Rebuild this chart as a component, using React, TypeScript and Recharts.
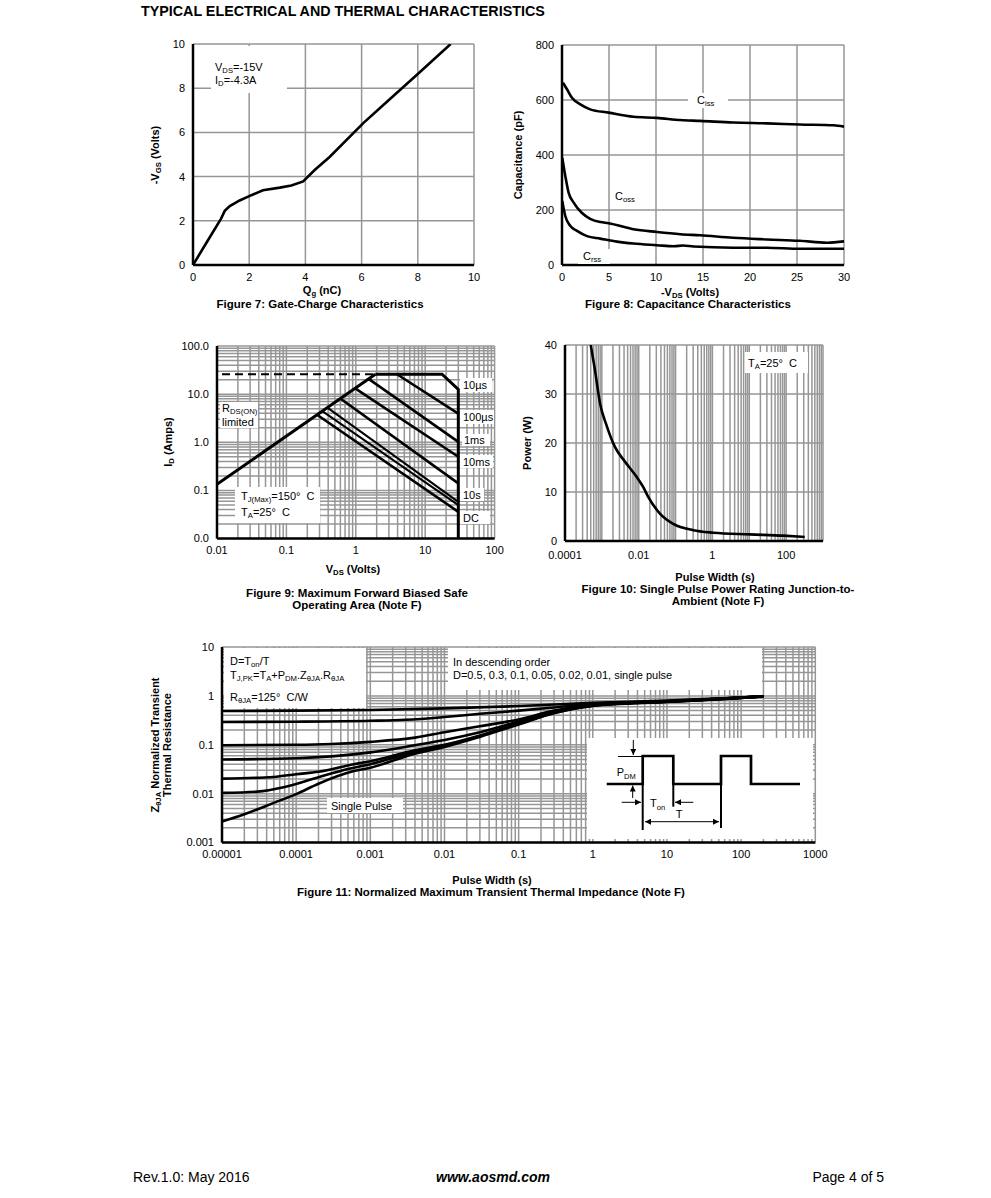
import React from 'react';
import { LineChart, Line, XAxis, YAxis, CartesianGrid } from 'recharts';

const FONT = '"Liberation Sans", Arial, Helvetica, sans-serif';
const GRID = '#969696';
const INK = '#000';

type P = [number, number];
const pts = (a: P[]) => a.map(([x, y]) => ({ x, y }));

// ---------- Figure 7: gate charge ----------
const qgTicks = [0, 2, 4, 6, 8, 10];
const vgsTicks = [0, 2, 4, 6, 8, 10];
const gateCharge: P[] = [
  [0, 0], [0.5, 1.05], [1.0, 2.1], [1.13, 2.45], [1.31, 2.67], [1.66, 2.92], [2.02, 3.13],
  [2.49, 3.38], [3.09, 3.5], [3.5, 3.6], [3.92, 3.78], [4.33, 4.3], [4.87, 4.9],
  [6.06, 6.42], [7.0, 7.5], [7.96, 8.6], [9.17, 10],
];

// ---------- Figure 8: capacitance ----------
const vdsTicks = [0, 5, 10, 15, 20, 25, 30];
const capTicks = [0, 200, 400, 600, 800];
const ciss: P[] = [
  [0.1, 663], [0.53, 639], [1.06, 608], [1.95, 584], [3.0, 566], [4.96, 554], [7.6, 539],
  [10.1, 535], [12.6, 527], [14.7, 524], [18.2, 518], [21.8, 515], [25.3, 511], [28.9, 508], [30, 503],
];
const coss: P[] = [
  [0.03, 390], [0.35, 324], [0.7, 263], [1.24, 227], [2.1, 190], [3.0, 168], [4.07, 156],
  [4.96, 152], [7.6, 130], [10.1, 120], [12.6, 112], [14.7, 108], [18.2, 99], [21.8, 93],
  [25.3, 88], [28.2, 81], [30, 86],
];
const crss: P[] = [
  [0.03, 233], [0.35, 178], [0.89, 142], [1.6, 124], [2.66, 105], [4.07, 96], [5.85, 85],
  [7.6, 78], [10.1, 72], [11.9, 68], [12.9, 71], [14.0, 67], [18.2, 63], [21.8, 63], [25.3, 59], [30, 59],
];

// ---------- Figure 9: SOA ----------
const soaXDecades = [0.01, 0.1, 1, 10, 100];
const soaXLabels = ['0.01', '0.1', '1', '10', '100'];
const soaYDecades = [0.01, 0.1, 1, 10, 100];
const soaYLabels = ['0.0', '0.1', '1.0', '10.0', '100.0'];
const rdsLimit: P[] = [[0.01, 0.134], [1.91, 25.9]];
const currentLimit: P[] = [[0.0118, 25.9], [1.8, 25.9]];
const soa10us: P[] = [[1.91, 25.9], [17.5, 25.9], [30, 12.5], [30, 0.01]];
const soa100us: P[] = [[3.92, 25.9], [30, 3.95]];
const soa1ms: P[] = [[1.53, 20.7], [30, 1.02]];
const soa10ms: P[] = [[0.98, 13.2], [30, 0.5]];
const soa100ms: P[] = [[0.598, 8.1], [30, 0.14]];
const soa1s: P[] = [[0.389, 5.26], [30, 0.058]];
const soa10s: P[] = [[0.329, 4.45], [30, 0.0495]];
const soaDC: P[] = [[0.276, 3.73], [30, 0.036]];

// ---------- Figure 10: single pulse power ----------
const pwXDecades = [0.0001, 0.01, 1, 100];
const pwXLabels = ['0.0001', '0.01', '1', '100'];
const powerTicks = [0, 10, 20, 30, 40];
const pulsePower: P[] = [
  [0.0005, 40], [0.00065, 34.9], [0.00089, 28.1], [0.00134, 23.6], [0.00226, 19.2],
  [0.00423, 16.2], [0.00876, 13.1], [0.0133, 11.0], [0.0181, 9.0], [0.0376, 5.6],
  [0.0863, 3.5], [0.301, 2.2], [1.05, 1.7], [10.2, 1.36], [83, 1.09], [319, 0.82],
];

// ---------- Figure 11: transient thermal impedance ----------
const ztXDecades = [0.00001, 0.0001, 0.001, 0.01, 0.1, 1, 10, 100, 1000];
const ztXLabels = ['0.00001', '0.0001', '0.001', '0.01', '0.1', '1', '10', '100', '1000'];
const ztYDecades = [0.001, 0.01, 0.1, 1, 10];
const ztYLabels = ['0.001', '0.01', '0.1', '1', '10'];
const zD05: P[] = [[1e-5, 0.49], [1e-4, 0.5], [1e-3, 0.515], [1e-2, 0.555], [0.1, 0.62], [1, 0.72], [10, 0.8], [100, 0.93], [200, 0.98]];
const zD03: P[] = [[1e-5, 0.293], [1e-4, 0.297], [1e-3, 0.31], [3e-3, 0.325], [1e-2, 0.37], [3e-2, 0.43], [0.1, 0.5], [0.3, 0.58], [1, 0.69], [10, 0.78], [100, 0.92], [200, 0.98]];
const zD01: P[] = [[1e-5, 0.098], [1e-4, 0.1], [3e-4, 0.104], [1e-3, 0.115], [4e-3, 0.14], [1e-2, 0.18], [3e-2, 0.24], [0.1, 0.33], [0.3, 0.5], [1, 0.66], [10, 0.77], [100, 0.92], [200, 0.98]];
const zD005: P[] = [[1e-5, 0.05], [1e-4, 0.053], [3e-4, 0.058], [1e-3, 0.07], [4e-3, 0.098], [1e-2, 0.125], [3e-2, 0.18], [0.1, 0.3], [0.3, 0.48], [1, 0.65], [10, 0.77], [100, 0.92], [200, 0.98]];
const zD002: P[] = [[1e-5, 0.0203], [5e-5, 0.022], [1e-4, 0.025], [2e-4, 0.028], [6e-4, 0.04], [1e-3, 0.046], [4e-3, 0.077], [1e-2, 0.1], [3e-2, 0.155], [0.1, 0.28], [0.3, 0.46], [1, 0.64], [10, 0.76], [100, 0.92], [200, 0.98]];
const zD001: P[] = [[1e-5, 0.0104], [3e-5, 0.011], [7e-5, 0.0137], [2e-4, 0.0218], [5e-4, 0.032], [1e-3, 0.04], [4e-3, 0.071], [1e-2, 0.095], [3e-2, 0.15], [0.1, 0.27], [0.3, 0.45], [1, 0.63], [10, 0.76], [100, 0.91], [200, 0.98]];
const zSingle: P[] = [[1e-5, 0.0027], [2e-5, 0.0038], [5e-5, 0.0065], [1e-4, 0.0098], [2e-4, 0.016], [6e-4, 0.029], [1e-3, 0.034], [4e-3, 0.066], [1e-2, 0.09], [3e-2, 0.145], [0.1, 0.26], [0.3, 0.44], [1, 0.62], [10, 0.75], [100, 0.91], [200, 0.98]];

// ---------- helpers ----------
const logTicks = (lo: number, hi: number) => {
  const out: number[] = [];
  for (let e = lo; e < hi; e++) for (let m = 1; m < 10; m++) out.push(Number((m * Math.pow(10, e)).toPrecision(3)));
  out.push(Number(Math.pow(10, hi).toPrecision(3)));
  return out;
};
const labeler = (dec: number[], lab: string[]) => (v: number) => {
  const i = dec.findIndex((d) => Math.abs(d - v) / d < 1e-6);
  return i >= 0 ? lab[i] : '';
};

const M = { top: 10, right: 26, bottom: 0, left: 0 };
const YW = 70;
const XH = 34;
const tickStyle = { fontSize: 11, fill: '#000', fontFamily: FONT };
const axisLine = { stroke: '#000', strokeWidth: 2.5 };

function Chart({ r, children }: { r: [number, number, number, number]; children: React.ReactNode }) {
  const [x0, y0, x1, y1] = r;
  const width = x1 - x0 + YW + M.left + M.right;
  const height = y1 - y0 + M.top + XH + M.bottom;
  return (
    <div style={{ position: 'absolute', left: x0 - YW - M.left, top: y0 - M.top }}>
      <LineChart width={width} height={height} margin={M}>
        {children}
      </LineChart>
    </div>
  );
}

function Tx({ x, y, a = 'l', s = 11, b = false, r = false, children, st }: any) {
  const tr = r
    ? 'translate(-50%,-50%) rotate(-90deg)'
    : a === 'c'
    ? 'translate(-50%,-50%)'
    : a === 'r'
    ? 'translate(-100%,-50%)'
    : 'translateY(-50%)';
  return (
    <div
      style={{
        position: 'absolute', left: x, top: y, transform: tr, fontFamily: FONT, fontSize: s,
        fontWeight: b ? 700 : 400, whiteSpace: 'nowrap', lineHeight: 1.15, color: '#000', ...st,
      }}
    >
      {children}
    </div>
  );
}
const Box = ({ x0, y0, x1, y1 }: any) => (
  <div style={{ position: 'absolute', left: x0, top: y0, width: x1 - x0, height: y1 - y0, background: '#fff' }} />
);
const Sb = ({ children }: any) => (
  <span style={{ fontSize: '0.7em', position: 'relative', top: '0.3em' }}>{children}</span>
);

const line = (d: P[], key: string, extra: any = {}) => (
  <Line
    key={key}
    data={pts(d)}
    dataKey="y"
    type={extra.type || 'linear'}
    stroke={INK}
    strokeWidth={extra.w || 2.6}
    strokeDasharray={extra.dash}
    dot={false}
    isAnimationActive={false}
  />
);

const TS = 11; // axis title size
const CS = 11.5; // caption size

export default function App() {
  const soaTicks = logTicks(-2, 2);
  const pwTicks = logTicks(-4, 3);
  const ztX = logTicks(-5, 3);
  const ztY = logTicks(-3, 1);
  const grid = <CartesianGrid stroke={GRID} strokeWidth={1.5} />;
  const axCommon = { tickLine: false, axisLine, tick: tickStyle, interval: 0 as const, allowDataOverflow: true };

  return (
    <div style={{ position: 'absolute', left: 0, top: 0, width: 991, height: 1198, background: '#fff', overflow: 'hidden' }}>
      {/* Figure 7 */}
      <Chart r={[193, 44, 474, 265]}>
        {grid}
        <XAxis dataKey="x" type="number" domain={[0, 10]} ticks={qgTicks} height={XH} {...axCommon} />
        <YAxis type="number" domain={[0, 10]} ticks={vgsTicks} width={YW} {...axCommon} />
        {line(gateCharge, 'qg')}
      </Chart>

      {/* Figure 8 */}
      <Chart r={[562, 45, 844, 265]}>
        {grid}
        <XAxis dataKey="x" type="number" domain={[0, 30]} ticks={vdsTicks} height={XH} {...axCommon} />
        <YAxis type="number" domain={[0, 800]} ticks={capTicks} width={YW} {...axCommon} />
        {line(ciss, 'ciss', { type: 'monotone' })}
        {line(coss, 'coss', { type: 'monotone' })}
        {line(crss, 'crss', { type: 'monotone' })}
      </Chart>

      {/* Figure 9 */}
      <Chart r={[216.7, 345.7, 494.3, 538.3]}>
        {grid}
        <XAxis dataKey="x" type="number" scale="log" domain={[0.01, 100]} ticks={soaTicks} height={XH}
          tickFormatter={labeler(soaXDecades, soaXLabels)} {...axCommon} />
        <YAxis type="number" scale="log" domain={[0.01, 100]} ticks={soaTicks} width={YW}
          tickFormatter={labeler(soaYDecades, soaYLabels)} {...axCommon} />
        {line(currentLimit, 'cl', { dash: '8 5', w: 2 })}
        {line(rdsLimit, 'rds', { w: 3 })}
        {line(soa10us, 'us10', { w: 3 })}
        {line(soa100us, 'us100')}
        {line(soa1ms, 'ms1')}
        {line(soa10ms, 'ms10')}
        {line(soa100ms, 'ms100')}
        {line(soa1s, 's1', { w: 2 })}
        {line(soa10s, 's10', { w: 2 })}
        {line(soaDC, 'dc', { w: 2.6 })}
      </Chart>

      {/* Figure 10 */}
      <Chart r={[565, 345, 823, 541]}>
        {grid}
        <XAxis dataKey="x" type="number" scale="log" domain={[0.0001, 1000]} ticks={pwTicks} height={XH}
          tickFormatter={labeler(pwXDecades, pwXLabels)} tickMargin={4} {...axCommon} />
        <YAxis type="number" domain={[0, 40]} ticks={powerTicks} width={YW} {...axCommon} />
        {line(pulsePower, 'pw', { type: 'monotone' })}
      </Chart>

      {/* Figure 11 */}
      <Chart r={[221.7, 646.7, 815, 842.3]}>
        {grid}
        <XAxis dataKey="x" type="number" scale="log" domain={[0.00001, 1000]} ticks={ztX} height={XH}
          tickFormatter={labeler(ztXDecades, ztXLabels)} {...axCommon} />
        <YAxis type="number" scale="log" domain={[0.001, 10]} ticks={ztY} width={YW}
          tickFormatter={labeler(ztYDecades, ztYLabels)} {...axCommon} />
        {line(zD05, 'd05', { type: 'monotone' })}
        {line(zD03, 'd03', { type: 'monotone' })}
        {line(zD01, 'd01', { type: 'monotone' })}
        {line(zD005, 'd005', { type: 'monotone' })}
        {line(zD002, 'd002', { type: 'monotone' })}
        {line(zD001, 'd001', { type: 'monotone' })}
        {line(zSingle, 'sp', { type: 'monotone' })}
      </Chart>

      {/* Page title */}
      <Tx x={141} y={11} s={14.3} b>TYPICAL ELECTRICAL AND THERMAL CHARACTERISTICS</Tx>

      {/* Fig 7 texts */}
      <Box x0={211} y0={46} x1={287} y1={93} />
      <Tx x={215} y={67}>V<Sb>DS</Sb>=-15V</Tx>
      <Tx x={215} y={80}>I<Sb>D</Sb>=-4.3A</Tx>
      <Tx x={155} y={155} r b s={TS}>-V<Sb>GS</Sb> (Volts)</Tx>
      <Tx x={322} y={290} a="c" b s={TS}>Q<Sb>g</Sb> (nC)</Tx>
      <Tx x={320} y={304.5} a="c" b s={CS}>Figure 7: Gate-Charge Characteristics</Tx>

      {/* Fig 8 texts */}
      <Box x0={688} y0={93} x1={728} y1={108} />
      <Tx x={697} y={100}>C<Sb>iss</Sb></Tx>
      <Tx x={615} y={196}>C<Sb>oss</Sb></Tx>
      <Box x0={578} y0={249} x1={610} y1={264} />
      <Tx x={583} y={256}>C<Sb>rss</Sb></Tx>
      <Tx x={518} y={155} r b s={TS}>Capacitance (pF)</Tx>
      <Tx x={690} y={291.5} a="c" b s={TS}>-V<Sb>DS</Sb> (Volts)</Tx>
      <Tx x={688} y={304.5} a="c" b s={CS}>Figure 8: Capacitance Characteristics</Tx>

      {/* Fig 9 texts */}
      <Box x0={220} y0={402} x1={258} y1={428} />
      <Tx x={222} y={408}>R<Sb>DS(ON)</Sb></Tx>
      <Tx x={222} y={422}>limited</Tx>
      <Box x0={235} y0={487} x1={320} y1={523} />
      <Tx x={241} y={496}>T<Sb>J(Max)</Sb>=150°&nbsp; C</Tx>
      <Tx x={241} y={512}>T<Sb>A</Sb>=25°&nbsp; C</Tx>
      <Box x0={460} y0={378} x1={492} y1={392} />
      <Tx x={463} y={385}>10µs</Tx>
      <Box x0={460} y0={410} x1={494} y1={424} />
      <Tx x={463} y={417}>100µs</Tx>
      <Box x0={462} y0={434} x1={490} y1={446} />
      <Tx x={464} y={440}>1ms</Tx>
      <Box x0={460} y0={455} x1={493} y1={468} />
      <Tx x={463} y={461.5}>10ms</Tx>
      <Box x0={460} y0={488} x1={484} y1={501} />
      <Tx x={463} y={494.5}>10s</Tx>
      <Box x0={460} y0={511} x1={490} y1={524} />
      <Tx x={463} y={517.5}>DC</Tx>
      <Tx x={168} y={442} r b s={TS}>I<Sb>D</Sb> (Amps)</Tx>
      <Tx x={353} y={569} a="c" b s={TS}>V<Sb>DS</Sb> (Volts)</Tx>
      <Tx x={357} y={593.5} a="c" b s={CS}>Figure 9: Maximum Forward Biased Safe</Tx>
      <Tx x={357} y={606} a="c" b s={CS}>Operating Area (Note F)</Tx>

      {/* Fig 10 texts */}
      <Box x0={745} y0={352} x1={808} y1={373} />
      <Tx x={748} y={362.5}>T<Sb>A</Sb>=25°&nbsp; C</Tx>
      <Tx x={527} y={443} r b s={TS}>Power (W)</Tx>
      <Tx x={715} y={576.5} a="c" b s={TS}>Pulse Width (s)</Tx>
      <Tx x={718} y={589.5} a="c" b s={CS}>Figure 10: Single Pulse Power Rating Junction-to-</Tx>
      <Tx x={718} y={602} a="c" b s={CS}>Ambient (Note F)</Tx>

      {/* Fig 11 texts */}
      <Box x0={224} y0={648} x1={366} y1={708} />
      <Tx x={230} y={660.5}>D=T<Sb>on</Sb>/T</Tx>
      <Tx x={230} y={675}>T<Sb>J,PK</Sb>=T<Sb>A</Sb>+P<Sb>DM</Sb>.Z<Sb>θJA</Sb>.R<Sb>θJA</Sb></Tx>
      <Tx x={230} y={697}>R<Sb>θJA</Sb>=125°&nbsp; C/W</Tx>
      <Box x0={448} y0={648} x1={762} y1={690} />
      <Tx x={453} y={662}>In descending order</Tx>
      <Tx x={453} y={675}>D=0.5, 0.3, 0.1, 0.05, 0.02, 0.01, single pulse</Tx>
      <Box x0={327} y0={798} x1={403} y1={813} />
      <Tx x={331} y={805.5}>Single Pulse</Tx>
      <div style={{ position: 'absolute', left: 590.5, top: 795, width: 8, height: 3.5, background: '#000' }} />
      <svg style={{ position: 'absolute', left: 587, top: 738 }} width={226} height={101}>
        <defs>
          <marker id="ah" viewBox="0 0 10 10" refX="10" refY="5" markerWidth="6" markerHeight="6" orient="auto-start-reverse">
            <path d="M0,0 L10,5 L0,10 z" fill="#000" />
          </marker>
        </defs>
        <rect x={0} y={0} width={226} height={101} fill="#fff" />
        <path d="M19.7 46 H55.7 V18 H86.3 V46 H134 V18 H164 V46 H213" fill="none" stroke="#000" strokeWidth={2.7} />
        <line x1={55.7} y1={46} x2={55.7} y2={92} stroke="#000" strokeWidth={2} />
        <line x1={86.3} y1={46} x2={86.3} y2={68.7} stroke="#000" strokeWidth={2} />
        <line x1={134} y1={46} x2={134} y2={90} stroke="#000" strokeWidth={2} />
        <line x1={31} y1={18.5} x2={55} y2={18.5} stroke="#000" strokeWidth={1} />
        <line x1={46.3} y1={2} x2={46.3} y2={17} stroke="#000" strokeWidth={1} markerEnd="url(#ah)" />
        <line x1={45.7} y1={60} x2={45.7} y2={47.5} stroke="#000" strokeWidth={1} markerEnd="url(#ah)" />
        <text x={29.7} y={37.5} fontFamily={FONT} fontSize={11}>P<tspan fontSize={7.5} dy={3}>DM</tspan></text>
        <line x1={34.7} y1={64.3} x2={54} y2={64.3} stroke="#000" strokeWidth={1} markerEnd="url(#ah)" />
        <line x1={106.3} y1={64.3} x2={88} y2={64.3} stroke="#000" strokeWidth={1} markerEnd="url(#ah)" />
        <text x={63} y={68.5} fontFamily={FONT} fontSize={11}>T<tspan fontSize={7.5} dy={3}>on</tspan></text>
        <line x1={58} y1={83.7} x2={132} y2={83.7} stroke="#000" strokeWidth={1} markerStart="url(#ah)" markerEnd="url(#ah)" />
        <text x={92} y={79.5} fontFamily={FONT} fontSize={11} textAnchor="middle">T</text>
      </svg>
      <Tx x={155} y={745} r b s={TS}>Z<Sb>θJA</Sb> Normalized Transient</Tx>
      <Tx x={167} y={745} r b s={TS}>Thermal Resistance</Tx>
      <Tx x={492} y={880} a="c" b s={TS}>Pulse Width (s)</Tx>
      <Tx x={491} y={893} a="c" b s={CS}>Figure 11: Normalized Maximum Transient Thermal Impedance (Note F)</Tx>

      {/* Footer */}
      <Tx x={133} y={1177} s={14}>Rev.1.0: May 2016</Tx>
      <Tx x={493} y={1177} a="c" s={14} b st={{ fontStyle: 'italic' }}>www.aosmd.com</Tx>
      <Tx x={884} y={1177} a="r" s={14}>Page 4 of 5</Tx>
    </div>
  );
}
